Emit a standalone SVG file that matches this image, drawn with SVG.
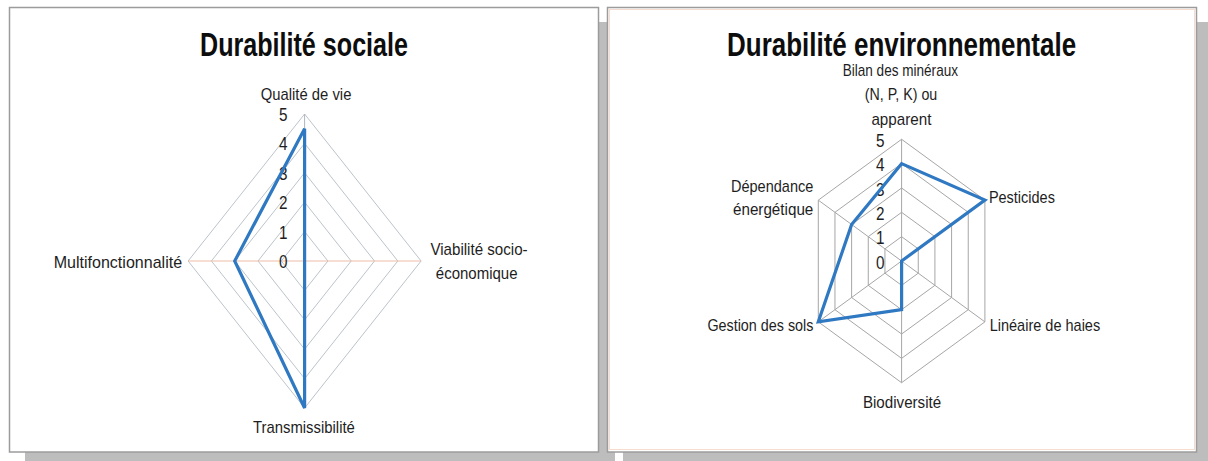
<svg xmlns="http://www.w3.org/2000/svg" width="1208" height="461" viewBox="0 0 1208 461">
<style>
text{font-family:"Liberation Sans",Arial,sans-serif;fill:#1e1e1e}
.title{font-size:33px;font-weight:bold;fill:#0d0d0d}
.lbl{font-size:17px}
.tk{font-size:18px;text-anchor:middle}
.gridL{fill:none;stroke:#bcc4cb;stroke-width:1}
.gridR{fill:none;stroke:#a6a6a6;stroke-width:1}
.data{fill:none;stroke:#2f78c2;stroke-width:3.2;stroke-linejoin:miter}
.shadow{fill:#bdbdbd}
.panel{fill:#ffffff;stroke:#9c9c9c;stroke-width:1.5}
</style>
<rect fill="#ffffff" x="0" y="0" width="1208" height="461"/>
<rect class="shadow" x="25" y="22" width="590" height="439"/>
<rect class="shadow" x="623" y="22" width="585" height="439"/>
<g id="panel-left">
<rect class="panel" x="9.5" y="7.5" width="589" height="444.5"/>
<text class="title" x="304" y="56" text-anchor="middle" textLength="208" lengthAdjust="spacingAndGlyphs">Durabilité sociale</text>
<g id="grid-left">
<polygon class="gridL" points="304.6,231.6 327.9,261 304.6,290.4 281.3,261"/>
<polygon class="gridL" points="304.6,202.2 351.2,261 304.6,319.8 258,261"/>
<polygon class="gridL" points="304.6,172.8 374.5,261 304.6,349.2 234.7,261"/>
<polygon class="gridL" points="304.6,143.4 397.8,261 304.6,378.6 211.4,261"/>
<polygon class="gridL" points="304.6,114 421.1,261 304.6,408 188.1,261"/>
<line x1="304.6" y1="114" x2="304.6" y2="408" stroke="#b0b6bc" stroke-width="1"/>
<line x1="188.1" y1="261" x2="421.1" y2="261" stroke="#efbda8" stroke-width="1"/>
</g>
<g id="ticks-left">
<text class="tk" x="283.3" y="121" textLength="8.5" lengthAdjust="spacingAndGlyphs">5</text>
<text class="tk" x="283.3" y="150.4" textLength="8.5" lengthAdjust="spacingAndGlyphs">4</text>
<text class="tk" x="283.3" y="179.8" textLength="8.5" lengthAdjust="spacingAndGlyphs">3</text>
<text class="tk" x="283.3" y="209.2" textLength="8.5" lengthAdjust="spacingAndGlyphs">2</text>
<text class="tk" x="283.3" y="238.6" textLength="8.5" lengthAdjust="spacingAndGlyphs">1</text>
<text class="tk" x="283.3" y="268" textLength="8.5" lengthAdjust="spacingAndGlyphs">0</text>
</g>
<g id="axis-qualite"><text class="lbl" x="260.7" y="99.5" textLength="90.7" lengthAdjust="spacingAndGlyphs">Qualité de vie</text></g>
<g id="axis-viabilite">
<text class="lbl" x="430.4" y="254.5" textLength="97.2" lengthAdjust="spacingAndGlyphs">Viabilité socio-</text>
<text class="lbl" x="435.8" y="278.5" textLength="81.7" lengthAdjust="spacingAndGlyphs">économique</text>
</g>
<g id="axis-transmissibilite"><text class="lbl" x="252.9" y="432.5" textLength="102" lengthAdjust="spacingAndGlyphs">Transmissibilité</text></g>
<g id="axis-multifonctionnalite"><text class="lbl" x="53.7" y="267.5" textLength="128.4" lengthAdjust="spacingAndGlyphs">Multifonctionnalité</text></g>
<g id="series-left">
<polygon class="data" points="304.6,128.7 304.6,261 304.6,408 234.7,261"/>
</g>
</g>
<g id="panel-right">
<rect class="panel" x="607.5" y="7.5" width="589" height="444.5"/>
<rect fill="none" stroke="#f6dccf" stroke-width="1" x="609.5" y="9.5" width="585" height="440"/>
<text class="title" x="901.6" y="55.5" text-anchor="middle" textLength="349" lengthAdjust="spacingAndGlyphs">Durabilité environnementale</text>
<g id="grid-right">
<polygon class="gridR" points="901.6,236.66 918.26,248.83 918.26,273.17 901.6,285.34 884.94,273.17 884.94,248.83"/>
<polygon class="gridR" points="901.6,212.32 934.92,236.66 934.92,285.34 901.6,309.68 868.28,285.34 868.28,236.66"/>
<polygon class="gridR" points="901.6,187.98 951.58,224.49 951.58,297.51 901.6,334.02 851.62,297.51 851.62,224.49"/>
<polygon class="gridR" points="901.6,163.64 968.24,212.32 968.24,309.68 901.6,358.36 834.96,309.68 834.96,212.32"/>
<polygon class="gridR" points="901.6,139.3 984.9,200.15 984.9,321.85 901.6,382.7 818.3,321.85 818.3,200.15"/>
<path class="gridR" d="M901.6,261V139.3M901.6,261L984.9,200.15M901.6,261L984.9,321.85M901.6,261V382.7M901.6,261L818.3,321.85M901.6,261L818.3,200.15"/>
</g>
<g id="ticks-right">
<text class="tk" x="880.3" y="147" textLength="8.5" lengthAdjust="spacingAndGlyphs">5</text>
<text class="tk" x="880.3" y="171.3" textLength="8.5" lengthAdjust="spacingAndGlyphs">4</text>
<text class="tk" x="880.3" y="195.6" textLength="8.5" lengthAdjust="spacingAndGlyphs">3</text>
<text class="tk" x="880.3" y="219.9" textLength="8.5" lengthAdjust="spacingAndGlyphs">2</text>
<text class="tk" x="880.3" y="244.2" textLength="8.5" lengthAdjust="spacingAndGlyphs">1</text>
<text class="tk" x="880.3" y="268.5" textLength="8.5" lengthAdjust="spacingAndGlyphs">0</text>
</g>
<g id="axis-bilan">
<text class="lbl" x="842.7" y="75.5" textLength="115.3" lengthAdjust="spacingAndGlyphs">Bilan des minéraux</text>
<text class="lbl" x="864.8" y="100" textLength="72.5" lengthAdjust="spacingAndGlyphs">(N, P, K) ou</text>
<text class="lbl" x="871.4" y="124.5" textLength="60" lengthAdjust="spacingAndGlyphs">apparent</text>
</g>
<g id="axis-pesticides"><text class="lbl" x="988.9" y="202.8" textLength="66" lengthAdjust="spacingAndGlyphs">Pesticides</text></g>
<g id="axis-lineaire"><text class="lbl" x="989.7" y="331" textLength="110.5" lengthAdjust="spacingAndGlyphs">Linéaire de haies</text></g>
<g id="axis-biodiversite"><text class="lbl" x="862.9" y="407.8" textLength="78.3" lengthAdjust="spacingAndGlyphs">Biodiversité</text></g>
<g id="axis-gestion"><text class="lbl" x="707.4" y="331" textLength="106" lengthAdjust="spacingAndGlyphs">Gestion des sols</text></g>
<g id="axis-dependance">
<text class="lbl" x="731" y="192" textLength="82.3" lengthAdjust="spacingAndGlyphs">Dépendance</text>
<text class="lbl" x="733" y="215" textLength="80.3" lengthAdjust="spacingAndGlyphs">énergétique</text>
</g>
<g id="series-right">
<polygon class="data" points="901.6,163.64 984.9,200.15 901.6,261 901.6,309.68 818.3,321.85 851.62,224.49"/>
</g>
</g>
</svg>
